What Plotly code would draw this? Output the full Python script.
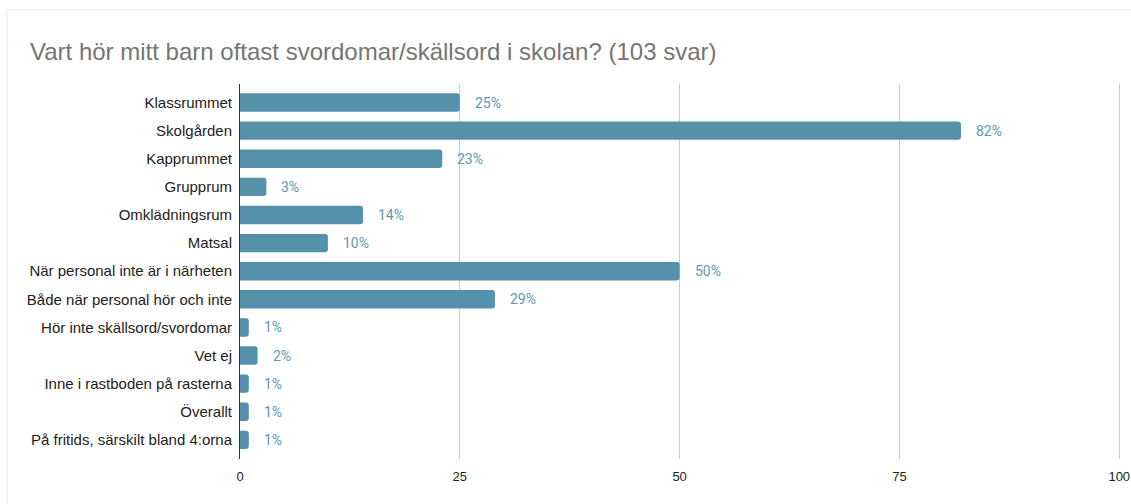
import plotly.graph_objects as go

kategorier = [
    "Klassrummet",
    "Skolgården",
    "Kapprummet",
    "Grupprum",
    "Omklädningsrum",
    "Matsal",
    "När personal inte är i närheten",
    "Både när personal hör och inte",
    "Hör inte skällsord/svordomar",
    "Vet ej",
    "Inne i rastboden på rasterna",
    "Överallt",
    "På fritids, särskilt bland 4:orna",
]
varden = [25, 82, 23, 3, 14, 10, 50, 29, 1, 2, 1, 1, 1]
procent = ["25%", "82%", "23%", "3%", "14%", "10%", "50%", "29%", "1%", "2%", "1%", "1%", "1%"]
x_ticks = [0, 25, 50, 75, 100]

titel = "Vart hör mitt barn oftast svordomar/skällsord i skolan? (103 svar)"
fargstapel = "#5591ab"
fargtext = "#6096b8"

fig = go.Figure()
fig.add_trace(go.Bar(
    x=varden, y=kategorier, orientation="h",
    marker_color=fargstapel, marker_line_width=0,
    hoverinfo="x+y",
))

# procentetiketter till höger om staplarna
for kat, v, p in zip(kategorier, varden, procent):
    fig.add_annotation(
        x=v, y=kat, text=p, showarrow=False,
        xanchor="left", xshift=13,
        font=dict(family="Roboto", size=14, color=fargtext),
    )

W, H = 1131, 504
ml, mr, mt, mb = 240, 10, 84, 45
pw = W - ml - mr
ph = H - mt - mb

# ram runt diagrammet (Google Forms-stil)
fig.add_shape(
    type="rect", xref="paper", yref="paper",
    x0=(7 - ml) / pw, x1=(W + 20 - ml) / pw,
    y0=-(mb + 20) / ph, y1=(H - mb - 10) / ph,
    line=dict(color="#d9d9d9", width=2), fillcolor="rgba(0,0,0,0)", layer="below",
)

fig.update_layout(
    width=W, height=H,
    template="simple_white",
    paper_bgcolor="white", plot_bgcolor="white",
    margin=dict(l=ml, r=mr, t=mt, b=mb),
    showlegend=False,
    bargap=0.345,
    barcornerradius=3,
    title=dict(
        text=titel, xref="container", yref="container",
        x=30 / W, xanchor="left", y=1 - 52 / H, yanchor="middle",
        font=dict(family="Liberation Sans, Arial", size=24, color="#757575"),
    ),
    font=dict(family="Liberation Sans, Arial", size=15, color="#222"),
)
fig.update_xaxes(
    range=[0, 100.2], tickvals=x_ticks, showgrid=True, gridcolor="#cccccc", gridwidth=1,
    showline=False, zeroline=False, ticks="outside", ticklen=5, tickcolor="rgba(0,0,0,0)",
    tickfont=dict(size=13, color="#222"), automargin=False,
)
fig.update_yaxes(
    range=[12.68, -0.66], showgrid=False, showline=True, linecolor="#333", linewidth=1,
    ticks="outside", ticklen=4, tickcolor="rgba(0,0,0,0)",
    tickfont=dict(size=15, color="#222"), automargin=False,
)

# ta bort sidans standardmarginal så att grafen fyller fönstret
fig.write_html(
    "out.html",
    config={"displayModeBar": False},
    post_script="document.body.style.margin='0';",
)
